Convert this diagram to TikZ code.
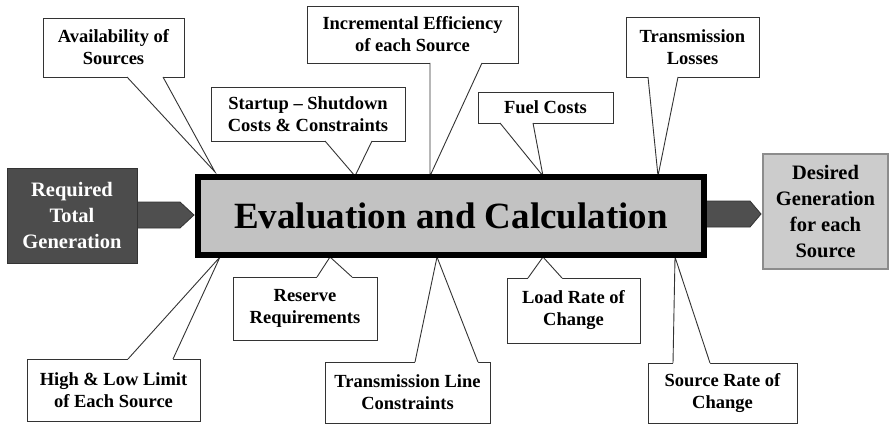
\documentclass[tikz,border=0pt]{standalone}
\usepackage{fontspec}
\setmainfont{Liberation Serif}
\begin{document}
\begin{tikzpicture}[x=1pt,y=-1pt,
  cbox/.style={draw=black!80, line width=0.9pt, fill=white, align=center, inner sep=0pt,
    font=\bfseries\fontsize{18.5}{22}\selectfont},
  cline/.style={draw=black!80, line width=0.9pt, line join=miter},
  mainbox/.style={draw=black, line width=4pt, fill=black!24, inner sep=0pt,
    font=\bfseries\fontsize{37}{42}\selectfont},
  darkbox/.style={draw=black!80, line width=1pt, fill=black!70, text=white, align=center, inner sep=0pt,
    font=\bfseries\fontsize{20.5}{26}\selectfont},
  lightbox/.style={draw=black!45, line width=1.5pt, fill=black!20, align=center, inner sep=0pt,
    font=\bfseries\fontsize{20.5}{26}\selectfont},
  fatarrow/.style={fill=black!69, draw=black!80, line width=0.8pt}
]
\useasboundingbox (0,0) rectangle (890,425);
\fill[white] (0,0) rectangle (890,425);

% main boxes
\node[mainbox, minimum width=504, minimum height=76] (main) at (451,216) {Evaluation and Calculation};
\node[darkbox, minimum width=130, minimum height=95] (req) at (72,215.5) {Required\\Total\\Generation};
\node[lightbox, minimum width=125, minimum height=115] (des) at (825.5,211.5) {Desired\\Generation\\for each\\Source};

% fat arrows
\draw[fatarrow] (req.east |- 0,202) -- (180,202) -- (194,215) -- (180,228) -- (req.east |- 0,228) -- cycle;
\draw[fatarrow] (main.east |- 0,201) -- (750,201) -- (761,214) -- (750,227) -- (main.east |- 0,227) -- cycle;

% ---- top callouts (pointer from bottom edge) ----
% Availability
\node[cbox, minimum width=141, minimum height=59] (avail) at (113.5,47.5) {Availability of\\Sources};
\coordinate (availT) at (215,172);
\fill[white] (127,75) -- (127,77) -- (availT) -- (163,77) -- (163,75) -- cycle;
\draw[cline] (127,77) -- (availT) -- (163,77);
% Startup
\node[cbox, minimum width=194, minimum height=54] (start) at (308,114) {Startup -- Shutdown\\Costs \& Constraints};
\coordinate (startT) at (355,176);
\fill[white] (325,139) -- (325,141) -- (startT) -- (372,141) -- (372,139) -- cycle;
\draw[cline] (325,141) -- (startT) -- (372,141);
% Incremental
\node[cbox, minimum width=211, minimum height=57] (incr) at (412.5,34.5) {Incremental Efficiency\\of each Source};
\coordinate (incrT) at (430,176);
\fill[white] (430,61) -- (430,63) -- (incrT) -- (482,63) -- (482,61) -- cycle;
\draw[cline] (430,63) -- (incrT) -- (482,63);
% Fuel
\node[cbox, minimum width=135, minimum height=31] (fuel) at (545.5,107.5) {Fuel Costs};
\coordinate (fuelT) at (543,176);
\fill[white] (500,121) -- (500,123) -- (fuelT) -- (533,123) -- (533,121) -- cycle;
\draw[cline] (500,123) -- (fuelT) -- (533,123);
% Transmission losses
\node[cbox, minimum width=133, minimum height=60] (tloss) at (692.5,47) {Transmission\\Losses};
\coordinate (tlossT) at (658,176);
\fill[white] (648,75) -- (648,77) -- (tlossT) -- (678,77) -- (678,75) -- cycle;
\draw[cline] (648,77) -- (tlossT) -- (678,77);

% ---- bottom callouts (pointer from top edge) ----
% High & Low
\node[cbox, minimum width=173, minimum height=62] (hilo) at (113.5,390) {High \& Low Limit\\of Each Source};
\coordinate (hiloT) at (220,257);
\fill[white] (128,361) -- (128,359) -- (hiloT) -- (173,359) -- (173,361) -- cycle;
\draw[cline] (128,359) -- (hiloT) -- (173,359);
% Reserve
\node[cbox, minimum width=144, minimum height=63] (res) at (305,308.5) {Reserve\\Requirements};
\coordinate (resT) at (330,257);
\fill[white] (317,279) -- (317,277) -- (resT) -- (352,277) -- (352,279) -- cycle;
\draw[cline] (317,277) -- (resT) -- (352,277);
% Transmission line
\node[cbox, minimum width=165, minimum height=61] (tline) at (407.5,392.5) {Transmission Line\\Constraints};
\coordinate (tlineT) at (437,257);
\fill[white] (415,364) -- (415,362) -- (tlineT) -- (478,362) -- (478,364) -- cycle;
\draw[cline] (415,362) -- (tlineT) -- (478,362);
% Load rate
\node[cbox, minimum width=133, minimum height=65] (load) at (573.5,310.5) {Load Rate of\\Change};
\coordinate (loadT) at (543,257);
\fill[white] (528,280) -- (528,278) -- (loadT) -- (562,278) -- (562,280) -- cycle;
\draw[cline] (528,278) -- (loadT) -- (562,278);
% Source rate
\node[cbox, minimum width=149, minimum height=60] (srate) at (722.5,393) {Source Rate of\\Change};
\coordinate (srateT) at (675,257);
\fill[white] (673,365) -- (673,363) -- (srateT) -- (710,363) -- (710,365) -- cycle;
\draw[cline] (673,363) -- (srateT) -- (710,363);

% redraw main box border on top of pointer tips
\draw[line width=4pt] (main.south west) rectangle (main.north east);
\end{tikzpicture}
\end{document}
